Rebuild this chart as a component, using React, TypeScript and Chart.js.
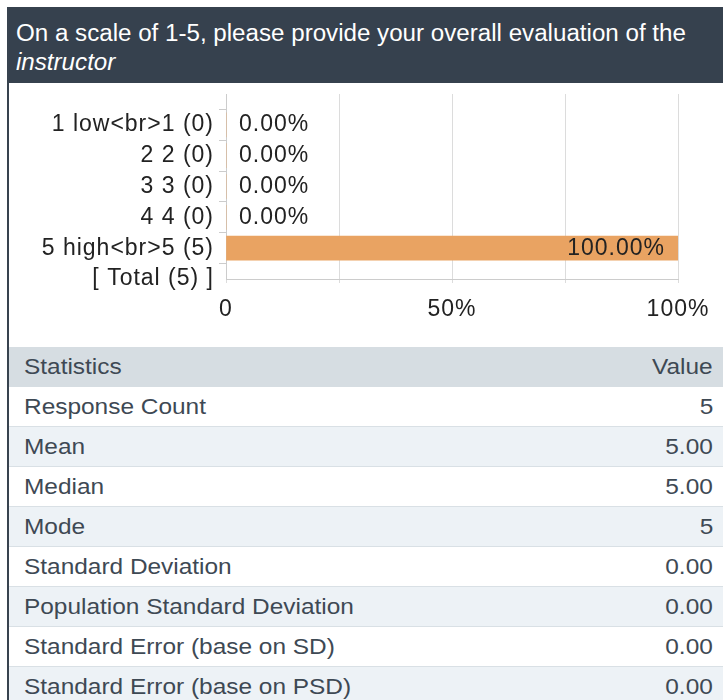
import React, { useEffect, useRef } from "react";
import { Chart, registerables } from "chart.js";

Chart.register(...registerables);

const titleMain = "On a scale of 1-5, please provide your overall evaluation of the";
const titleItalic = "instructor";

const categories = [
  "1 low<br>1 (0)",
  "2 2 (0)",
  "3 3 (0)",
  "4 4 (0)",
  "5 high<br>5 (5)",
  "[ Total (5) ]",
];
const percents: (number | null)[] = [0, 0, 0, 0, 100, null];
const xTickLabels: Record<number, string> = { 0: "0", 50: "50%", 100: "100%" };

const statNames = [
  "Response Count",
  "Mean",
  "Median",
  "Mode",
  "Standard Deviation",
  "Population Standard Deviation",
  "Standard Error (base on SD)",
  "Standard Error (base on PSD)",
];
const statValues = ["5", "5.00", "5.00", "5", "0.00", "0.00", "0.00", "0.00"];

const FONT = "'Liberation Sans', Arial, Helvetica, sans-serif";

const spacingPlugin = {
  id: "spacing",
  beforeDraw(chart: any) {
    chart.ctx.letterSpacing = "1px";
  },
};

const valueLabelPlugin = {
  id: "valueLabels",
  afterDatasetsDraw(chart: any) {
    const ctx = chart.ctx;
    const meta = chart.getDatasetMeta(0);
    const data = chart.data.datasets[0].data;
    ctx.save();
    ctx.letterSpacing = "1px";
    ctx.font = `23px ${FONT}`;
    ctx.fillStyle = "#222";
    ctx.textBaseline = "middle";
    meta.data.forEach((bar: any, i: number) => {
      const v = data[i];
      if (v === null || v === undefined) return;
      const text = Number(v).toFixed(2) + "%";
      const w = ctx.measureText(text).width;
      const barW = Math.abs(bar.x - bar.base);
      if (barW > w + 20) {
        ctx.textAlign = "right";
        ctx.fillText(text, bar.x - 13, bar.y);
      } else {
        ctx.textAlign = "left";
        ctx.fillText(text, bar.base + 13, bar.y);
      }
    });
    ctx.restore();
  },
};

function BarChart() {
  const ref = useRef<HTMLCanvasElement | null>(null);
  useEffect(() => {
    if (!ref.current) return;
    Chart.defaults.font.family = FONT;
    const chart = new Chart(ref.current, {
      type: "bar",
      data: {
        labels: ["", ...categories],
        datasets: [
          {
            data: [null, ...percents],
            backgroundColor: "#e9a362",
            borderWidth: 0,
            barThickness: 24,
          },
        ],
      },
      options: {
        indexAxis: "y",
        animation: false,
        responsive: false,
        maintainAspectRatio: false,
        layout: { padding: { top: 11, right: 45, left: 0, bottom: 0 } },
        plugins: {
          legend: { display: false },
          tooltip: { enabled: false },
          title: { display: false },
        },
        scales: {
          x: {
            type: "linear",
            min: 0,
            max: 100,
            afterFit: (scale: any) => {
              scale.height = 68;
              scale.paddingLeft = 0;
              scale.paddingRight = 0;
            },
            ticks: {
              stepSize: 25,
              autoSkip: false,
              maxRotation: 0,
              padding: 13,
              color: "#222",
              font: { size: 23 },
              callback: (v: any) => xTickLabels[Number(v)] ?? "",
            },
            grid: { color: "#dcdcdc", tickLength: 4, drawTicks: true },
            border: { color: "#cccccc" },
          },
          y: {
            type: "category",
            offset: false,
            afterFit: (scale: any) => {
              scale.width = 217;
              scale.paddingTop = 0;
              scale.paddingBottom = 0;
            },
            ticks: {
              autoSkip: false,
              padding: 5,
              color: "#222",
              font: { size: 23 },
            },
            grid: {
              drawOnChartArea: false,
              tickLength: 7,
              tickColor: (c: any) => (c.index === 0 ? "rgba(0,0,0,0)" : "#cccccc"),
            },
            border: { color: "#cccccc" },
          },
        },
      } as any,
      plugins: [spacingPlugin, valueLabelPlugin],
    });
    return () => chart.destroy();
  }, []);
  return <canvas ref={ref} width={714} height={264} style={{ display: "block" }} />;
}

const stretchL: React.CSSProperties = {
  display: "inline-block",
  transform: "scaleX(1.11)",
  transformOrigin: "left center",
  whiteSpace: "nowrap",
};
const stretchR: React.CSSProperties = {
  display: "inline-block",
  transform: "scaleX(1.11)",
  transformOrigin: "right center",
  whiteSpace: "nowrap",
};

function Row({ name, value, bg, header }: { name: string; value: string; bg: string; header?: boolean }) {
  return (
    <div
      style={{
        height: 40,
        background: bg,
        borderBottom: header ? "none" : "1px solid #d9e0e5",
        display: "flex",
        alignItems: "center",
        justifyContent: "space-between",
        padding: "0 10px 0 15px",
        color: "#3e4954",
        fontSize: 22,
        boxSizing: "border-box",
      }}
    >
      <span style={stretchL}>{name}</span>
      <span style={stretchR}>{value}</span>
    </div>
  );
}

export default function App() {
  return (
    <div
      style={{
        position: "absolute",
        left: 7,
        top: 7,
        width: 716,
        height: 693,
        overflow: "hidden",
        fontFamily: FONT,
        boxSizing: "border-box",
        borderLeft: "2px solid #38434f",
        background: "#fff",
      }}
    >
      <div
        style={{
          position: "absolute",
          left: -2,
          top: 0,
          width: 716,
          height: 76,
          background: "#36414e",
          color: "#ffffff",
          fontSize: 23,
          lineHeight: "29px",
          padding: "12px 0 0 9px",
          boxSizing: "border-box",
        }}
      >
        <span style={{ ...stretchL, transform: "scaleX(1.05)" }}>{titleMain}</span>
        <br />
        <span style={{ ...stretchL, transform: "scaleX(1.05)" }}>
          <i>{titleItalic}</i>
        </span>
      </div>
      <div style={{ position: "absolute", left: 0, top: 76 }}>
        <BarChart />
      </div>
      <div style={{ position: "absolute", left: 0, top: 340, width: 714 }}>
        <Row name="Statistics" value="Value" bg="#d6dde2" header />
        {statNames.map((name, i) => (
          <Row key={name} name={name} value={statValues[i]} bg={i % 2 === 1 ? "#edf2f6" : "#ffffff"} />
        ))}
      </div>
    </div>
  );
}
